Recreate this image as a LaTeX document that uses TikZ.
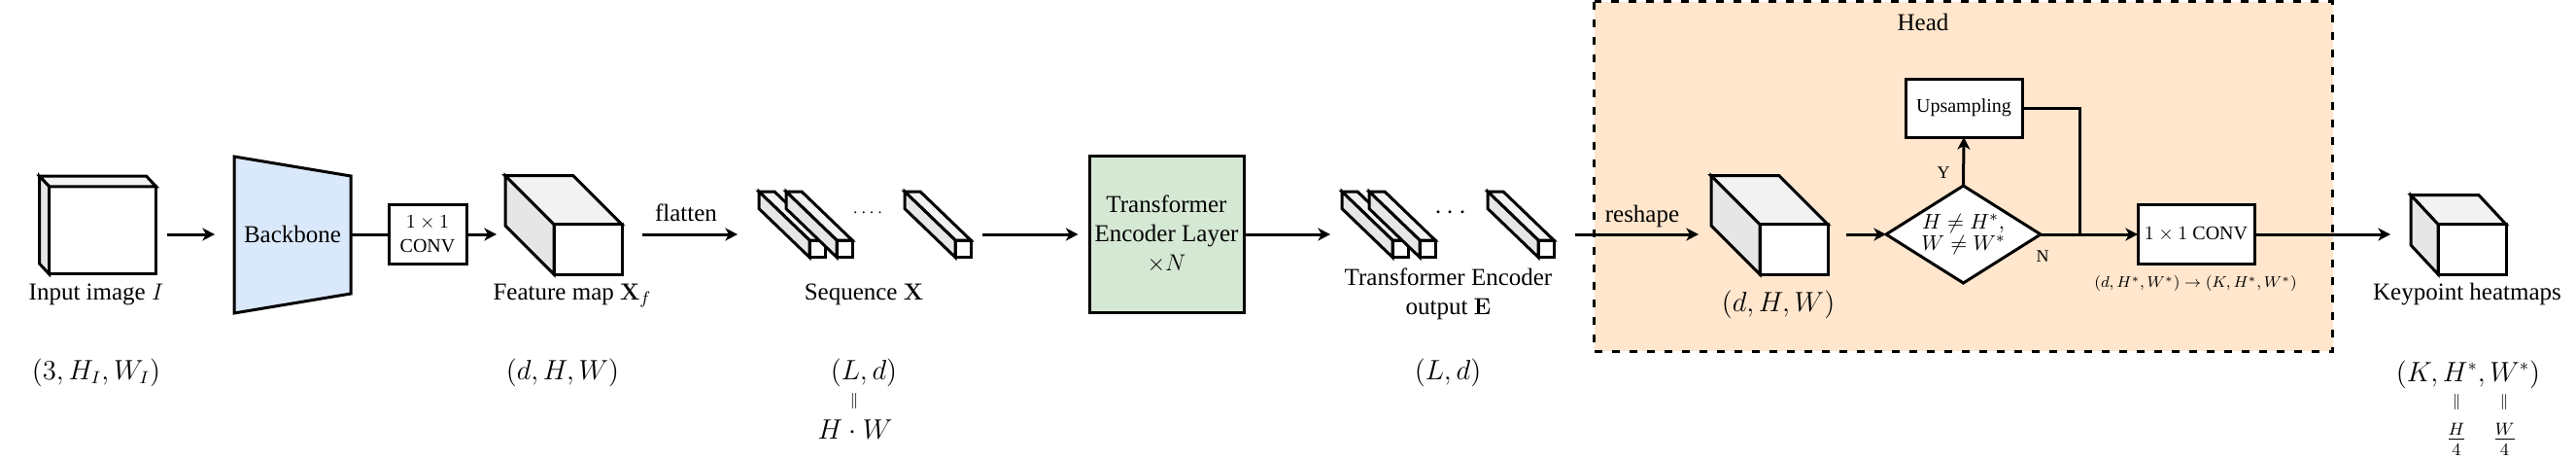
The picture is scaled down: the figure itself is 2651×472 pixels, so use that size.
\documentclass[tikz,border=0pt]{standalone}
\usepackage[no-math]{fontspec}
\setmainfont{Liberation Serif}
\usetikzlibrary{arrows.meta,shapes.geometric,calc}
\definecolor{bbblue}{HTML}{DAE8FC}
\definecolor{trgreen}{HTML}{D5E8D4}
\definecolor{headorange}{HTML}{FFE6CC}
\definecolor{sidegray}{HTML}{E6E6E6}
\definecolor{topgray}{HTML}{F2F2F2}
\newcommand\mycube[3]{%
  \draw[cubeline, fill=topgray] (#1.north west) -- ++(-#2,-#3) -- ($(#1.north east)+(-#2,-#3)$) -- (#1.north east) -- cycle;
  \draw[cubeline, fill=sidegray] (#1.north west) -- ++(-#2,-#3) -- ($(#1.south west)+(-#2,-#3)$) -- (#1.south west) -- cycle;
}
\tikzset{
  cubeline/.style={line width=1.5pt},
  conn/.style={line width=1.5pt},
  arr/.style={conn, -{Stealth[length=6.3pt,width=6.5pt,inset=1.8pt]}},
  box/.style={draw, line width=1.5pt, fill=white, inner sep=0pt, outer sep=0pt, align=center},
  face/.style={draw, line width=1.5pt, fill=white, inner sep=0pt, outer sep=0pt},
  slab/.style={face, minimum width=8pt, minimum height=8.75pt},
  txt/.style={inner sep=0pt, outer sep=0pt, font=\fontsize{12.5}{15}\selectfont, align=center},
  mlbl/.style={inner sep=0pt, outer sep=0pt, font=\fontsize{13.3}{16}\selectfont},
  smalltxt/.style={font=\fontsize{10}{12.5}\selectfont},
  eqbar/.style={inner sep=0pt, font=\fontsize{8.5}{9}\selectfont},
}
\begin{document}
\begin{tikzpicture}[x=0.5pt, y=-0.5pt]
\useasboundingbox (0,0) rectangle (2651,472);
\coordinate (ml) at (0,241);

% ---- Head background box
\draw[line width=1.5pt, dash pattern=on 4pt off 5pt, fill=headorange] (1640.5,1.5) rectangle (2400.5,361);
\node[txt] (headlbl) at (1979,22.7) {Head};

% ---- Input image cube
\node[face, minimum width=55pt, minimum height=45pt] (inimg) at (105.65,236.85) {};
\mycube{inimg}{10}{10.7}
\node[txt, anchor=base] (inlbl) at (99,308) {Input image $I$};
\node[mlbl] (indim) at (99,383) {$(3, H_I, W_I)$};

% ---- Backbone
\draw[line width=1.5pt, fill=bbblue] (241,161) -- (241,322) -- (361,302) -- (361,181) -- cycle;
\node[txt, minimum width=60pt, minimum height=80.5pt] (bb) at (301,241) {Backbone};

% ---- 1x1 conv
\node[box, smalltxt, minimum width=40pt, minimum height=30.8pt] (conv1) at (440,241) {$1\times 1$\\CONV};

% ---- Feature map cube
\node[face, minimum width=35pt, minimum height=25.65pt] (fmap) at (605,256.35) {};
\mycube{fmap}{50}{50}
\node[txt, anchor=base] (fmlbl) at (589,308) {Feature map $\mathbf{X}_f$};
\node[mlbl] (fmdim) at (579,383) {$(d, H, W)$};

% ---- Sequence slabs
\node[slab] (s1) at (841,255.75) {};
\mycube{s1}{52}{50}
\node[slab] (s2) at (869,255.75) {};
\mycube{s2}{52}{50}
\node[inner sep=0pt, font=\fontsize{8}{9}\selectfont] (sdots) at (893,219) {.\kern2.2pt.\kern2.2pt.\kern2.2pt.};
\node[slab] (s3) at (991,255.75) {};
\mycube{s3}{52}{50}
\node[txt, anchor=base] (seqlbl) at (889,308) {Sequence $\mathbf{X}$};
\node[mlbl] (seqdim) at (889,383) {$(L, d)$};
\node[eqbar] (seqeq) at (879,412) {$\|$};
\node[mlbl] (seqhw) at (880,442) {$H\cdot W$};

% ---- Transformer encoder
\node[box, txt, fill=trgreen, line width=1.5pt, draw, minimum width=79.5pt, minimum height=80.5pt] (tr) at (1200.5,241) {Transformer\\Encoder Layer\\$\times N$};

% ---- Encoder output slabs
\node[slab] (o1) at (1441,255.75) {};
\mycube{o1}{52}{50}
\node[slab] (o2) at (1469,255.75) {};
\mycube{o2}{52}{50}
\node[inner sep=0pt, font=\fontsize{15}{16}\selectfont] (odots) at (1493,219) {$\cdots$};
\node[slab] (o3) at (1591,255.75) {};
\mycube{o3}{52}{50}
\node[txt] (outlbl) at (1490.5,302) {Transformer Encoder\\output $\mathbf{E}$};
\node[mlbl] (outdim) at (1490,383) {$(L, d)$};

% ---- Head content
\node[face, minimum width=35pt, minimum height=25.65pt] (hcube) at (1846,256.35) {};
\mycube{hcube}{50}{50}
\node[mlbl] (hdim) at (1830,313) {$(d, H, W)$};
\node[draw, diamond, line width=1.5pt, fill=white, inner sep=0pt, outer sep=0pt, aspect=1.59,
      minimum width=79.5pt, minimum height=50pt, align=center, font=\fontsize{11}{10.9}\selectfont] (dia) at (2020.5,241) {$H\neq H^{*},$\\$W\neq W^{*}$};
\node[box, smalltxt, minimum width=60pt, minimum height=30pt] (up) at (2021,111) {Upsampling};
\node[box, smalltxt, minimum width=60pt, minimum height=30.8pt] (conv2) at (2260,241) {$1\times 1$ CONV};
\node[inner sep=0pt, font=\fontsize{8.5}{10}\selectfont] (convdim) at (2259.5,291.7) {$(d, H^{*}, W^{*}) \rightarrow (K, H^{*}, W^{*})$};
\node[inner sep=0pt, font=\fontsize{9}{10}\selectfont] (ylbl) at (2000,178) {Y};
\node[inner sep=0pt, font=\fontsize{9}{10}\selectfont] (nlbl) at (2102,264) {N};

% ---- Keypoint cube
\node[face, minimum width=35pt, minimum height=25.65pt] (kcube) at (2544,256.35) {};
\mycube{kcube}{28}{30}
\node[txt, anchor=base] (kplbl) at (2539,308) {Keypoint heatmaps};
\node[mlbl] (kpdim) at (2540,385) {$(K, H^{*}, W^{*})$};
\node[eqbar] (kpeq1) at (2528,413) {$\|$};
\node[eqbar] (kpeq2) at (2577,413) {$\|$};
\node[mlbl] (kph) at (2528,452) {$\frac{H}{4}$};
\node[mlbl] (kpw) at (2577.5,452) {$\frac{W}{4}$};

% ---- Connectors
\draw[arr, shorten <=5.5pt, shorten >=10pt] (inimg.east |- ml) -- (bb.west);
\draw[conn] (bb.east) -- (conv1.west);
\draw[arr, shorten >=29.5pt] (conv1.east) -- (fmap.west |- ml);
\draw[arr, shorten <=10.5pt, shorten >=37pt] (fmap.east |- ml) -- (s1.west |- ml);
\node[txt] (flatlbl) at (706,219) {flatten};
\draw[arr, shorten <=6pt, shorten >=5.75pt] (s3.east |- ml) -- (tr.west);
\draw[arr, shorten >=32pt] (tr.east) -- (o1.west |- ml);
\draw[arr, shorten <=11pt, shorten >=31.5pt] (o3.east |- ml) -- (hcube.west |- ml);
\node[txt] (reshlbl) at (1690,222.7) {reshape};
\draw[arr, shorten <=9.5pt] (hcube.east |- ml) -- (dia.west);
\draw[arr] (dia.east) -- (conv2.west);
\draw[arr] (dia.north) -- (up.south);
\coordinate (mj) at (2140,241);
\draw[conn] (up.east) -| (mj);
\draw[arr, shorten >=24.5pt] (conv2.east) -- (kcube.west |- ml);
\end{tikzpicture}
\end{document}
